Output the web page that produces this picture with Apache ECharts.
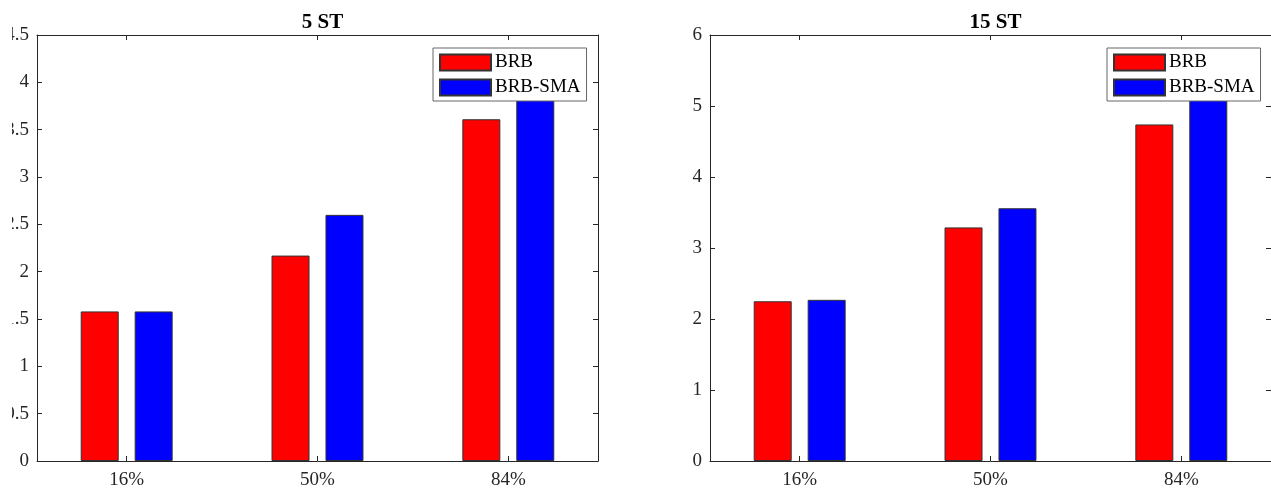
<!DOCTYPE html>
<html>
<head>
<meta charset="utf-8">
<script src="https://cdn.jsdelivr.net/npm/echarts@6/dist/echarts.min.js"></script>
<style>
html,body{margin:0;padding:0;background:#fff;}
#c{width:1271px;height:495px;}
</style>
</head>
<body>
<div id="c"></div>
<script>
const categories = ['16%', '50%', '84%'];
const catPos = [1, 2, 3];
const titles = ['5 ST', '15 ST'];
const seriesNames = ['BRB', 'BRB-SMA'];
const brb5 = [1.58, 2.17, 3.61];
const sma5 = [1.58, 2.60, 4.10];
const brb15 = [2.25, 3.29, 4.74];
const sma15 = [2.27, 3.56, 5.40];
const yMax = [4.5, 6];
const yStep = [0.5, 1];

const FONT = '"Liberation Serif", "Times New Roman", serif';
const AX = '#262626';
const grids = [
  {left: 37, top: 35, width: 561, height: 426},
  {left: 710, top: 35, width: 561, height: 426}
];
const legendPos = [{left: 433, top: 48}, {left: 1107, top: 48}];

const xAxis = [], yAxis = [], series = [], title = [], legend = [];
const pts = arr => arr.map((v, i) => [catPos[i], v]);
const data = [[brb5, sma5], [brb15, sma15]];

grids.forEach((g, k) => {
  const base = {
    type: 'value', gridIndex: k, min: 0.53, max: 3.47,
    axisLine: {show: true, onZero: false, lineStyle: {color: AX, width: 1}},
    splitLine: {show: false}
  };
  xAxis.push(Object.assign({}, base, {
    position: 'bottom',
    axisTick: {show: true, inside: true, length: 5, customValues: catPos, lineStyle: {color: AX}},
    axisLabel: {show: true, customValues: catPos, margin: 10,
      formatter: v => categories[catPos.indexOf(Math.round(v))] || '',
      fontFamily: FONT, fontSize: 19, color: '#262626'}
  }));
  xAxis.push(Object.assign({}, base, {
    position: 'top',
    axisTick: {show: true, inside: true, length: 5, customValues: catPos, lineStyle: {color: AX}},
    axisLabel: {show: false}
  }));
  const ybase = {
    type: 'value', gridIndex: k, min: 0, max: yMax[k], interval: yStep[k],
    axisLine: {show: true, onZero: false, lineStyle: {color: AX, width: 1}},
    splitLine: {show: false},
    axisTick: {show: true, inside: true, length: 5, lineStyle: {color: AX}}
  };
  yAxis.push(Object.assign({}, ybase, {
    position: 'left',
    axisLabel: {show: true, margin: 8, fontFamily: FONT, fontSize: 19, color: '#262626'}
  }));
  yAxis.push(Object.assign({}, ybase, {
    position: 'right',
    axisLabel: {show: false}
  }));
  title.push({
    text: titles[k], left: g.left + g.width / 2, top: 7, textAlign: 'center',
    textStyle: {fontFamily: FONT, fontSize: 21, fontWeight: 'bold', color: '#000'}
  });
  legend.push({
    data: seriesNames, orient: 'vertical', left: legendPos[k].left, top: legendPos[k].top,
    itemWidth: 51, itemHeight: 16, itemGap: 6, padding: [5, 6, 4, 6],
    backgroundColor: '#fff', borderColor: '#666', borderWidth: 1, z: 20,
    icon: 'rect', selectedMode: false,
    textStyle: {fontFamily: FONT, fontSize: 19, lineHeight: 16, color: '#000', padding: [0, 0, 0, -1]}
  });
  const colors = ['#ff0000', '#0000ff'];
  data[k].forEach((arr, j) => {
    series.push({
      type: 'bar', name: seriesNames[j], xAxisIndex: k * 2, yAxisIndex: k * 2,
      data: pts(arr), barWidth: 38, barGap: '42%',
      itemStyle: {color: colors[j], borderColor: '#333', borderWidth: 1},
      z: 2
    });
  });
});

const chart = echarts.init(document.getElementById('c'), null, {renderer: 'canvas'});
chart.setOption({
  animation: false,
  grid: grids,
  xAxis, yAxis, series, title, legend,
  graphic: [{
    type: 'rect', left: 0, top: 0, z: 100,
    shape: {x: 0, y: 0, width: 12, height: 495},
    style: {fill: '#fff'}
  }]
});
</script>
</body>
</html>
